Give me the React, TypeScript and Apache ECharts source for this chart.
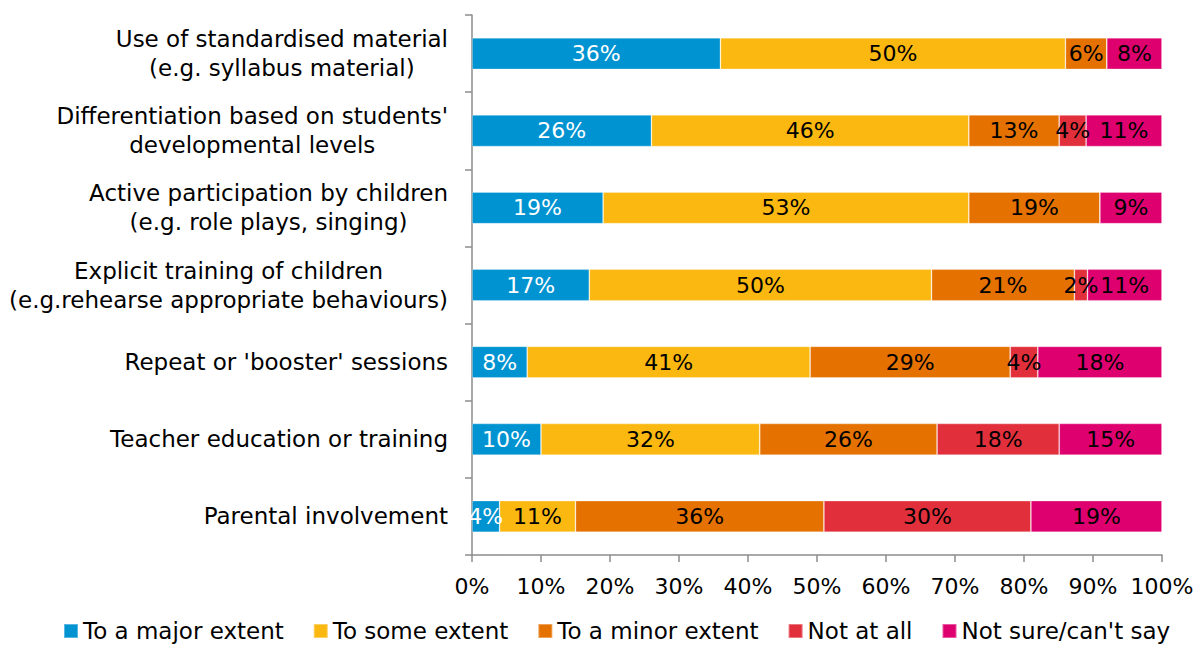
import React, { useEffect, useRef } from 'react';
import * as echarts from 'echarts';

const categories = [
  'Use of standardised material\n(e.g. syllabus material)',
  "Differentiation based on students'\ndevelopmental levels",
  'Active participation by children\n(e.g. role plays, singing)',
  'Explicit training of children\n(e.g.rehearse appropriate behaviours)',
  "Repeat or 'booster' sessions",
  'Teacher education or training',
  'Parental involvement',
];

const seriesNames = [
  'To a major extent',
  'To some extent',
  'To a minor extent',
  'Not at all',
  "Not sure/can't say",
];

const majorExtent = [36, 26, 19, 17, 8, 10, 4];
const someExtent = [50, 46, 53, 49.6, 41, 31.7, 11];
const minorExtent = [6, 13.1, 19, 20.7, 29, 25.7, 36];
const notAtAll = [0, 3.9, 0, 1.9, 4, 17.7, 30];
const notSure = [8, 11, 9, 10.8, 18, 14.9, 19];

const xAxisMin = 0;
const xAxisMax = 100;
const xAxisStep = 10;

const seriesValues = [majorExtent, someExtent, minorExtent, notAtAll, notSure];
const seriesColors = ['#0093D1', '#FBB811', '#E57200', '#E1303C', '#DE006F'];
const labelColors = ['#FFFFFF', '#000000', '#000000', '#000000', '#000000'];

export default function App() {
  const ref = useRef<HTMLDivElement>(null);

  useEffect(() => {
    const chart = echarts.init(ref.current!, null, { renderer: 'svg' });
    const font = 'DejaVu Sans';
    const axisColor = '#8C8C8C';

    const option: any = {
      animation: false,
      textStyle: { fontFamily: font },
      grid: { left: 472, right: 38, top: 15, bottom: 91, containLabel: false },
      legend: {
        left: 63,
        top: 619,
        padding: 0,
        icon: 'rect',
        itemWidth: 14,
        itemHeight: 14,
        itemGap: 29,
        textStyle: { fontFamily: font, fontSize: 23, lineHeight: 24, color: '#000' },
        data: seriesNames,
      },
      xAxis: {
        type: 'value',
        min: xAxisMin,
        max: xAxisMax,
        interval: xAxisStep,
        axisLine: { show: true, lineStyle: { color: axisColor, width: 1.5 } },
        axisTick: { show: true, length: 7, lineStyle: { color: axisColor, width: 1.5 } },
        splitLine: { show: false },
        axisLabel: {
          margin: 20,
          fontFamily: font,
          fontSize: 22,
          color: '#000',
          formatter: '{value}%',
        },
      },
      yAxis: {
        type: 'category',
        data: categories,
        inverse: true,
        axisLine: { show: true, lineStyle: { color: axisColor, width: 1.5 } },
        axisTick: { show: true, length: 7, lineStyle: { color: axisColor, width: 1.5 } },
        axisLabel: {
          margin: 24,
          fontFamily: font,
          fontSize: 23,
          color: '#000',
          lineHeight: 29,
          formatter: (v: string) =>
            v
              .split('\n')
              .map((l) => `{c|${l}}`)
              .join('\n'),
          rich: {
            c: {
              align: 'center',
              fontFamily: font,
              fontSize: 23,
              color: '#000',
              lineHeight: 29,
            },
          },
        },
      },
      series: seriesNames.map((name, i) => ({
        name,
        type: 'bar',
        stack: 'total',
        barWidth: '41%',
        data: seriesValues[i],
        itemStyle: {
          color: seriesColors[i],
          borderColor: 'rgba(255,255,255,0.35)',
          borderWidth: 0.8,
        },
        label: {
          show: true,
          position: 'inside',
          fontFamily: font,
          fontSize: 22,
          color: labelColors[i],
          formatter: (p: any) => (p.value > 0 ? `${Math.round(p.value)}%` : ''),
        },
      })),
    };

    chart.setOption(option);
    return () => chart.dispose();
  }, []);

  return (
    <div
      ref={ref}
      style={{ position: 'absolute', left: 0, top: 0, width: 1200, height: 646 }}
    />
  );
}
